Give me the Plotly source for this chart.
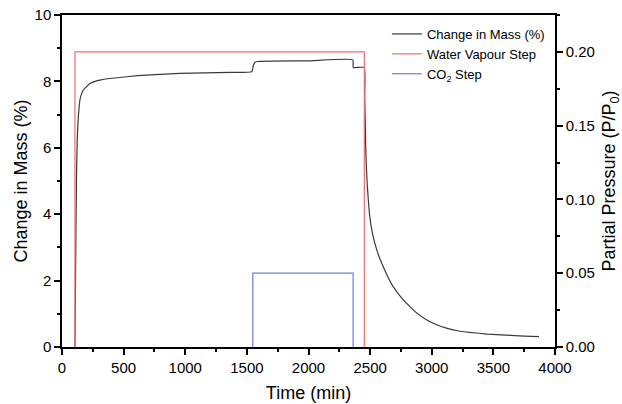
import plotly.graph_objects as go

# Gravimetric uptake over time (min, % mass change)
time_min = [105, 112, 118, 124, 132, 146, 173, 227, 308, 524, 957, 1363, 1540,
            1552, 1565, 1585, 2000, 2360, 2363, 2452, 2456, 2460, 2465, 2470,
            2476, 2486, 2497, 2515, 2538, 2570, 2605, 2645, 2687, 2740, 2795,
            2870, 2957, 3040, 3119, 3210, 3308, 3450, 3600, 3750, 3870]
mass_change = [0.0, 3.0, 5.2, 6.3, 6.9, 7.45, 7.74, 7.94, 8.04, 8.14, 8.24, 8.27, 8.29,
               8.48, 8.57, 8.60, 8.62, 8.65, 8.42, 8.42, 7.6, 6.8, 5.94, 5.4,
               4.93, 4.4, 3.93, 3.5, 3.13, 2.75, 2.43, 2.1, 1.82, 1.55, 1.32,
               1.05, 0.82, 0.67, 0.57, 0.49, 0.44, 0.39, 0.36, 0.33, 0.31]

# Gas dosing profile (partial pressure, P/P0)
water_time = [105, 105, 2453, 2453]
water_pp = [0.0, 0.20, 0.20, 0.0]
co2_time = [1548, 1548, 2362, 2362]
co2_pp = [0.0, 0.05, 0.05, 0.0]

font_family = "Liberation Sans, Arial, sans-serif"

fig = go.Figure()
fig.add_trace(go.Scatter(x=time_min, y=mass_change, mode="lines",
                         name="Change in Mass (%)", line_shape="spline",
                         line=dict(color="#3a3a3a", width=1.2, smoothing=0.4),
                         yaxis="y"))
fig.add_trace(go.Scatter(x=water_time, y=water_pp, mode="lines",
                         name="Water Vapour Step",
                         line=dict(color="#f26b6b", width=1.2), yaxis="y2"))
fig.add_trace(go.Scatter(x=co2_time, y=co2_pp, mode="lines",
                         name="CO<sub>2</sub> Step",
                         line=dict(color="#6b7fd6", width=1.2), yaxis="y2"))

axis_common = dict(showgrid=False, zeroline=False, showline=True, automargin=False,
                   linecolor="black", linewidth=1.5, ticks="outside",
                   ticklen=6, tickwidth=1.5, tickcolor="black",
                   tickfont=dict(size=15, color="black", family=font_family))

fig.update_layout(
    width=622, height=404,
    margin=dict(l=62, r=67, t=15, b=57),
    paper_bgcolor="white", plot_bgcolor="white",
    font=dict(family=font_family, color="black"),
    showlegend=True,
    legend=dict(x=0.659, y=0.988, xanchor="left", yanchor="top",
                bgcolor="rgba(0,0,0,0)", font=dict(size=13),
                tracegroupgap=0, itemwidth=30),
    xaxis=dict(range=[0, 4000], dtick=500, mirror=True,
               minor=dict(dtick=250, ticks="outside", ticklen=3, tickcolor="black"),
               title=dict(text="Time (min)", font=dict(size=18), standoff=12),
               **axis_common),
    yaxis=dict(range=[0, 10], dtick=2,
               minor=dict(dtick=1, ticks="outside", ticklen=3, tickcolor="black"),
               title=dict(text="Change in Mass (%)", font=dict(size=18), standoff=2),
               **axis_common),
    yaxis2=dict(range=[0, 0.225], dtick=0.05, tickformat=".2f",
                overlaying="y", side="right",
                minor=dict(dtick=0.025, ticks="outside", ticklen=3, tickcolor="black"),
                title=dict(text="Partial Pressure (P/P<sub>0</sub>)",
                           font=dict(size=18), standoff=9),
                **axis_common),
)

fig.write_html("out.html")
